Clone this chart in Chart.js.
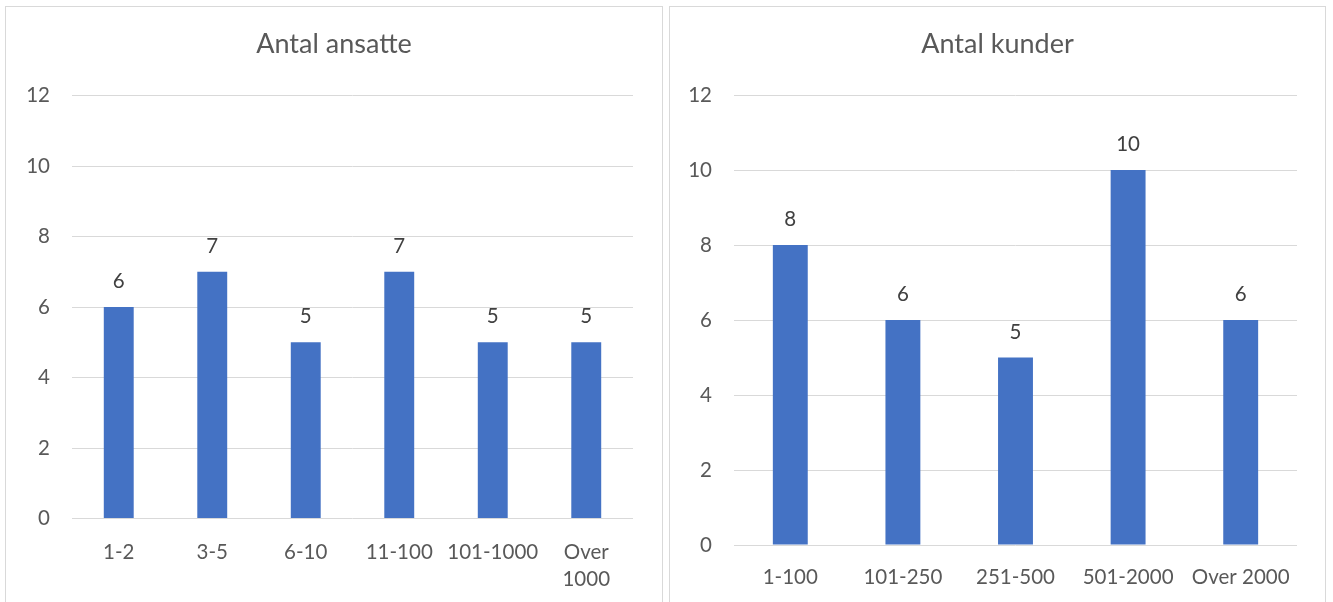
<!DOCTYPE html>
<html>
<head>
<meta charset="utf-8">
<script src="https://cdn.jsdelivr.net/npm/chart.js@4/dist/chart.umd.min.js"></script>
<style>
  html, body { margin: 0; padding: 0; background: #fff; width: 1333px; height: 602px; overflow: hidden; }
  .panel { position: absolute; top: 6px; height: 640px; border: 1px solid #d9d9d9; box-sizing: border-box; background: #fff; }
  .wrap { position: absolute; }
</style>
</head>
<body>
<div class="panel" style="left:5px;width:658px;"></div>
<div class="panel" style="left:669px;width:657px;"></div>
<div class="wrap" style="left:6px;top:7px;width:656px;height:595px;"><canvas id="c1" width="656" height="595"></canvas></div>
<div class="wrap" style="left:670px;top:7px;width:655px;height:595px;"><canvas id="c2" width="655" height="595"></canvas></div>
<script>
// Antal ansatte
const employeeTitle = 'Antal ansatte';
const employeeCategories = ['1-2', '3-5', '6-10', '11-100', '101-1000', ['Over', '1000']];
const employeeCounts = [6, 7, 5, 7, 5, 5];

// Antal kunder
const customerTitle = 'Antal kunder';
const customerCategories = ['1-100', '101-250', '251-500', '501-2000', 'Over 2000'];
const customerCounts = [8, 6, 5, 10, 6];

const yTicks = { min: 0, max: 12, step: 2 };

const FONT = 'Lato, "Open Sans", sans-serif';
const BAR = '#4472C4';
const GRID = '#d9d9d9';
const AXIS_TEXT = '#595959';
const VALUE_TEXT = '#404040';

// Writes each bar's value just above it
const valueLabels = {
  id: 'valueLabels',
  afterDatasetsDraw(chart) {
    const ctx = chart.ctx;
    ctx.save();
    ctx.font = '20.5px ' + FONT;
    ctx.fillStyle = VALUE_TEXT;
    ctx.textAlign = 'center';
    ctx.textBaseline = 'alphabetic';
    chart.data.datasets.forEach((ds, i) => {
      chart.getDatasetMeta(i).data.forEach((bar, j) => {
        ctx.fillText(String(ds.data[j]), bar.x, bar.y - 19);
      });
    });
    ctx.restore();
  }
};

// Chart heading centred across the whole panel
const panelTitle = {
  id: 'panelTitle',
  afterDraw(chart, args, opts) {
    const ctx = chart.ctx;
    ctx.save();
    ctx.font = '27px ' + FONT;
    ctx.fillStyle = AXIS_TEXT;
    ctx.textAlign = 'center';
    ctx.textBaseline = 'alphabetic';
    ctx.fillText(opts.text, chart.width / 2, opts.baseline);
    ctx.restore();
  }
};

function makeChart(id, title, labels, values, geom) {
  return new Chart(document.getElementById(id), {
    type: 'bar',
    data: {
      labels: labels,
      datasets: [{
        data: values,
        backgroundColor: BAR,
        borderWidth: 0,
        categoryPercentage: 1,
        barPercentage: geom.barPct
      }]
    },
    options: {
      responsive: false,
      animation: false,
      events: [],
      layout: { padding: { left: 0, right: geom.right, top: geom.top, bottom: 0 } },
      plugins: {
        legend: { display: false },
        tooltip: { enabled: false },
        title: { display: false },
        panelTitle: { text: title, baseline: 46 }
      },
      scales: {
        x: {
          offset: true,
          grid: { display: false, drawTicks: false },
          border: { display: false },
          ticks: {
            color: AXIS_TEXT,
            font: { family: FONT, size: 20.5, lineHeight: 1.33 },
            padding: geom.xPad,
            maxRotation: 0,
            autoSkip: false
          },
          afterFit(scale) { scale.height = geom.xHeight; }
        },
        y: {
          min: yTicks.min,
          max: yTicks.max,
          grid: { color: GRID, lineWidth: 1, drawTicks: false },
          border: { display: false },
          ticks: {
            stepSize: yTicks.step,
            color: AXIS_TEXT,
            font: { family: FONT, size: 20.5 },
            padding: 22
          },
          afterFit(scale) { scale.width = geom.yWidth; }
        }
      }
    },
    plugins: [valueLabels, panelTitle]
  });
}

makeChart('c1', employeeTitle, employeeCategories, employeeCounts, {
  barPct: 0.32, right: 29, top: 88.5, yWidth: 66, xHeight: 83.5, xPad: 20
});
makeChart('c2', customerTitle, customerCategories, customerCounts, {
  barPct: 0.31, right: 28, top: 88, yWidth: 64, xHeight: 57, xPad: 19
});
</script>
</body>
</html>
